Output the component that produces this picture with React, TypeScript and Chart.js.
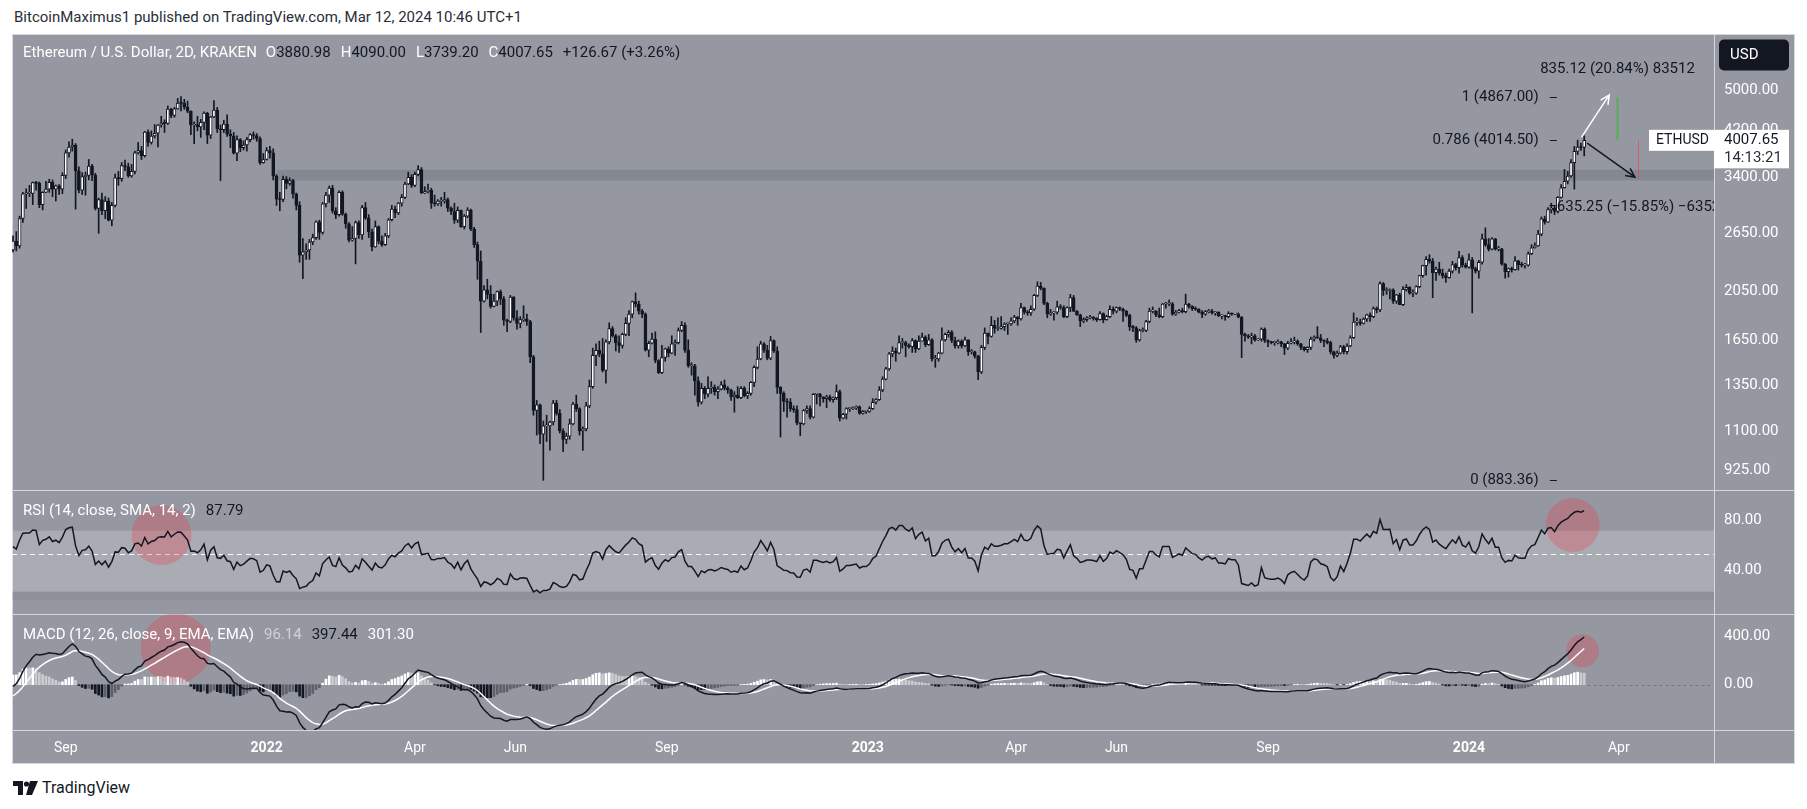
import React, { useEffect, useRef } from 'react';
import { Chart, registerables } from 'chart.js';

Chart.register(...registerables);

// ---------- DATA (2D candles, KRAKEN ETH/USD, Jul 31 2021 .. Mar 11 2024) ----------
// closes before the visible range, used only to warm up RSI / MACD
const WARMUP_CLOSES = [1970,2090,2110,1970,2070,2140,2430,2520,2240,2160,2360,2210,2310,2750,2770,2950,3540,3490,3910,3950,4170,3720,3580,3280,2430,2740,2100,2710,2730,2280,2710,2710,2700,2630,2510,2370,2510,2590,2370,2230,2240,1880,1990,1830,2080,2280,2230,2320,2320,2110,2140,1990,1910,1880,1900,1820,2020,2190,2230,2380,2460];

const CLOSES = [
2560,2505,2830,3160,3165,3165,3320,3310,3010,3180,3225,3325,3225,3275,3225,3430,
3790,3890,3925,3500,3210,3410,3430,3575,3435,2960,3080,2930,3060,2810,3000,
3390,3380,3580,3560,3420,3490,3790,3830,3745,4155,3970,4085,4135,4290,4325,4320,
4605,4475,4610,4730,4725,4645,4560,4290,4300,4255,4340,4525,4100,4445,4585,
4220,4200,4310,4120,4085,3785,4020,3880,3925,4020,4110,4095,4040,3630,3680,
3830,3790,3420,3085,3080,3370,3310,3350,3160,3000,2405,2440,2460,2550,2600,2790,
2660,3020,3140,3240,2930,2880,3180,2885,2765,2570,2590,2780,2630,2970,
2835,2665,2495,2730,2560,2520,2620,2815,2950,2900,3030,3110,3300,3400,3280,
3445,3520,3170,3190,3210,3030,3020,3060,3060,3080,2965,2920,2810,2935,2730,
2860,2940,2700,2520,2340,1960,2060,2020,1915,1960,2045,1980,1800,1790,1995,1820,
1775,1805,1810,1790,1530,1205,1235,1085,1125,1125,1145,1245,1190,1100,1060,
1075,1135,1240,1215,1100,1110,1230,1340,1540,1575,1550,1440,1635,1735,1680,
1630,1610,1690,1775,1850,1955,1935,1875,1850,1575,1625,1655,1505,1425,1525,1585,
1555,1620,1630,1720,1760,1575,1470,1470,1375,1250,1330,1295,1330,1335,1310,
1325,1350,1330,1320,1280,1290,1275,1330,1285,1300,1365,1460,1515,1620,1575,
1520,1645,1570,1335,1300,1255,1250,1215,1210,1140,1135,1205,1215,1170,1295,
1295,1280,1270,1280,1265,1275,1310,1165,1185,1215,1215,1220,1225,1190,1200,1200,
1215,1250,1265,1320,1385,1450,1550,1570,1555,1630,1630,1610,1600,1645,1585,
1640,1670,1615,1650,1515,1515,1555,1650,1690,1705,1645,1605,1640,1605,
1650,1565,1565,1535,1430,1595,1700,1675,1760,1735,1735,1750,1770,1770,1795,1825,
1810,1905,1865,1860,1890,2010,2095,2075,1940,1850,1860,1865,1910,1905,1830,
1905,1990,1875,1845,1795,1805,1820,1820,1815,1805,1855,1805,1830,1890,1875,
1905,1890,1875,1840,1750,1740,1650,1720,1720,1790,1875,1875,1845,1830,1935,
1935,1935,1850,1865,1880,1870,1935,1915,1895,1890,1865,1850,1870,1875,1860,1865,
1835,1835,1830,1855,1850,1850,1825,1690,1680,1670,1680,1650,1655,1730,1645,
1635,1630,1630,1635,1620,1590,1625,1635,1640,1620,1595,1580,1595,1655,1670,
1665,1645,1640,1630,1565,1540,1555,1600,1565,1605,1665,1785,1785,1775,1810,1845,
1830,1895,1885,2120,2055,2055,2060,1960,2015,1930,2065,2085,2030,2030,2090,
2195,2295,2360,2340,2225,2260,2220,2195,2175,2240,2305,2275,2380,2300,2280,
2355,2265,2240,2330,2585,2520,2470,2585,2470,2470,2310,2235,2265,2255,2345,2305,
2300,2300,2420,2485,2505,2640,2825,2785,2945,2965,2920,3110,3245,3340,
3420,3630,3815,3890,3880.98,4007.65];

const HIGHS = [
2620,2670,2860,3180,3230,3280,3330,3340,3330,3190,3340,3370,3360,3285,3290,3470,
3840,3980,4030,3950,3560,3470,3480,3680,3600,3460,3100,3170,3120,3100,3040,
3450,3490,3630,3670,3620,3600,3820,3970,3900,4170,4200,4180,4300,4300,4460,4390,
4670,4620,4640,4830,4867,4810,4770,4570,4350,4460,4400,4550,4540,4460,4780,
4640,4290,4380,4490,4200,4150,4090,4040,4000,4060,4130,4160,4130,4070,3780,
3880,3900,3860,3440,3180,3420,3410,3390,3370,3170,3050,2590,2530,2580,2640,2800,
2810,3040,3180,3270,3280,2970,3200,3200,2900,2780,2730,2800,2800,3000,
3040,2880,2700,2800,2740,2620,2650,2830,3000,2990,3040,3150,3330,3480,3440,
3480,3580,3550,3260,3300,3240,3140,3080,3110,3180,3100,2980,3030,2980,2940,
2880,2970,2950,2720,2550,2450,2100,2160,2100,2020,2050,2060,2000,1810,2010,2000,
1880,1830,1920,1850,1800,1540,1260,1240,1150,1180,1150,1260,1260,1210,1110,
1090,1160,1250,1290,1220,1120,1250,1380,1590,1620,1640,1660,1650,1780,1750,
1690,1680,1700,1820,1880,1960,2034,1960,1890,1860,1640,1700,1710,1510,1610,1590,
1600,1680,1650,1740,1790,1780,1650,1490,1480,1400,1360,1340,1400,1370,1350,
1340,1370,1380,1340,1325,1310,1340,1340,1340,1310,1370,1470,1600,1640,1630,
1610,1675,1650,1600,1340,1310,1270,1270,1230,1230,1140,1210,1230,1230,1300,
1300,1300,1280,1290,1290,1280,1350,1320,1190,1220,1220,1225,1230,1230,1205,1205,
1225,1270,1270,1340,1400,1460,1560,1600,1590,1680,1660,1640,1620,1660,1650,
1680,1700,1680,1690,1660,1540,1560,1740,1700,1720,1720,1670,1650,1650,
1670,1650,1580,1570,1540,1610,1740,1700,1830,1800,1820,1830,1780,1780,1820,1840,
1830,1940,1910,1880,1920,2020,2136,2130,2080,1950,1890,1870,1960,1930,1920,
1910,2020,2010,1880,1850,1820,1830,1840,1830,1820,1870,1860,1840,1920,1910,
1910,1910,1900,1880,1850,1760,1750,1730,1740,1800,1900,1910,1880,1900,1940,
1950,1970,1950,1880,1890,1900,2022,1940,1920,1910,1895,1880,1880,1890,1890,1870,
1870,1845,1840,1870,1860,1855,1860,1830,1700,1690,1700,1690,1660,1740,1740,
1650,1640,1640,1650,1640,1625,1640,1660,1670,1650,1625,1600,1600,1670,1680,
1750,1690,1650,1660,1640,1570,1570,1610,1610,1620,1680,1860,1820,1810,1820,1850,
1860,1910,1910,2136,2130,2080,2070,2070,2020,2030,2090,2110,2090,2060,2100,
2200,2300,2390,2410,2370,2280,2330,2260,2220,2260,2340,2320,2445,2400,2320,
2420,2380,2280,2350,2640,2715,2590,2600,2590,2500,2480,2320,2270,2280,2390,2350,
2330,2320,2440,2520,2540,2685,2850,2860,2970,3030,3000,3120,3290,3520,
3490,3680,3900,4010,3960,4090];

const LOWS = [
2440,2450,2480,2780,2960,3120,3010,3210,2970,2940,3180,3180,3120,3060,3150,3160,
3380,3720,3820,2950,3170,3150,3140,3360,3350,2940,2650,2880,2830,2800,2740,
2980,3280,3340,3500,3400,3400,3450,3770,3680,3720,3900,3940,4050,3890,4250,4150,
4300,4430,4440,4600,4570,4600,4530,4110,3950,4180,4060,4200,3950,4040,4430,
4150,3350,4150,4080,3880,3770,3660,3810,3840,3820,3980,4030,3990,3600,3620,
3670,3700,3360,3000,2930,3050,3230,3280,3100,2940,2330,2167,2360,2360,2520,2580,
2580,2640,2980,3040,2900,2830,2860,2870,2710,2550,2560,2313,2590,2580,
2820,2600,2450,2490,2530,2500,2510,2600,2800,2840,2880,2990,3090,3290,3250,
3260,3420,3160,3160,3170,2960,2990,3000,2990,3030,2920,2880,2770,2780,2720,
2700,2840,2680,2490,2160,1704,1950,1980,1900,1910,1920,1930,1760,1710,1780,1800,
1730,1740,1790,1760,1490,1180,1080,1040,883,1050,1010,1130,1180,1090,1003,
1040,1060,1130,1200,1080,1009,1100,1220,1330,1470,1530,1430,1361,1620,1670,
1570,1560,1590,1680,1680,1820,1910,1850,1820,1570,1530,1620,1490,1420,1420,1500,
1530,1550,1540,1620,1710,1560,1460,1410,1290,1229,1240,1270,1280,1300,1290,
1270,1320,1320,1300,1260,1196,1270,1270,1280,1270,1290,1340,1450,1510,1560,
1510,1510,1560,1300,1071,1200,1170,1200,1195,1130,1077,1130,1190,1160,1165,
1240,1230,1250,1220,1255,1250,1265,1150,1160,1160,1200,1210,1210,1185,1185,1190,
1195,1210,1240,1260,1310,1380,1440,1530,1500,1550,1590,1530,1590,1560,1560,
1580,1640,1600,1610,1500,1460,1500,1550,1640,1670,1630,1590,1590,1590,
1600,1540,1550,1520,1382,1420,1580,1620,1670,1700,1720,1730,1720,1690,1760,1780,
1760,1800,1850,1840,1840,1880,2000,2060,1930,1820,1840,1800,1850,1890,1820,
1820,1870,1870,1840,1750,1780,1790,1810,1800,1790,1800,1780,1800,1820,1850,
1860,1880,1790,1830,1720,1710,1632,1640,1710,1710,1780,1860,1830,1820,1820,
1900,1920,1840,1840,1860,1860,1860,1900,1880,1880,1860,1820,1840,1860,1850,1840,
1830,1810,1800,1820,1840,1845,1820,1524,1640,1660,1620,1640,1645,1640,1630,
1600,1620,1610,1620,1600,1545,1580,1620,1620,1610,1580,1570,1560,1580,1640,
1660,1630,1600,1620,1550,1521,1530,1550,1550,1550,1600,1660,1760,1760,1770,1790,
1790,1820,1860,1870,2010,2020,1980,1940,1940,1930,1920,2050,2020,2000,2020,
2080,2180,2200,2320,1990,2150,2200,2170,2130,2170,2220,2250,2220,2280,2270,
2270,1860,2220,2170,2310,2500,2450,2460,2460,2450,2300,2170,2180,2230,2250,2250,
2280,2270,2290,2410,2480,2500,2620,2760,2780,2900,2880,2900,3100,3240,
3300,3400,3226,3760,3830,3739.2];

// axis ticks
const PRICE_TICKS = [925, 1100, 1350, 1650, 2050, 2650, 3400, 4200, 5000];
const RSI_TICKS = [80, 40];
const MACD_TICKS = [400, 0];
const TIME_TICK_INDEX = [16, 77, 122, 152.5, 198.5, 259.5, 304.5, 335, 381, 442, 487.5];
const TIME_TICK_LABELS = ['Sep', '2022', 'Apr', 'Jun', 'Sep', '2023', 'Apr', 'Jun', 'Sep', '2024', 'Apr'];
const YEAR_LABELS = ['2022', '2023', '2024'];

// drawings on the chart
const FIB_LEVELS = [1, 0.786, 0];
const FIB_PRICES = [4867.0, 4014.5, 883.36];
const ZONE_PRICES = [3352, 3514];
const ZONE_START_INDEX = 80;
const MEASURE_DELTAS = [835.12, -635.25];
const MEASURE_INDEX = [487.1, 493.4];
const WHITE_ARROW = [476.2, 4064, 484.6, 4905];
const BLACK_ARROW = [477.9, 3957, 492.4, 3401];
const RSI_BAND = [23.2, 72];
const RSI_MID = 53.4;
const RSI_CIRCLES = [[45.1, 68.6, 30], [473.5, 76.6, 27]];
const MACD_CIRCLES = [[49.4, 303, 35], [476.5, 283, 16.5]];
const RSI_LAST = 87.79;
const MACD_LAST = [96.14, 397.44, 301.3];
const COUNTDOWN = '14:13:21';

// ---------- layout constants ----------
const X_MIN = -0.304;
const X_MAX = 516.4;
const PRICE_MIN = 846;
const PRICE_MAX = 6431;
const RSI_MIN = 5.36;
const RSI_MAX = 104.56;
const MACD_MIN = -377.5;
const MACD_MAX = 589.2;
const AXIS_W = 81;
const FONT = 'Roboto, "Noto Sans", "DejaVu Sans", sans-serif';
const WHITE = '#ffffff';
const DARK = '#131722';
const BG = '#9598a1';

// ---------- helpers ----------
function calcRsi(values: number[], period: number) {
  const out: (number | null)[] = new Array(values.length).fill(null);
  let g = 0, l = 0;
  for (let i = 1; i <= period; i++) {
    const d = values[i] - values[i - 1];
    if (d > 0) g += d; else l -= d;
  }
  let ag = g / period, al = l / period;
  out[period] = al === 0 ? 100 : 100 - 100 / (1 + ag / al);
  for (let i = period + 1; i < values.length; i++) {
    const d = values[i] - values[i - 1];
    ag = (ag * (period - 1) + Math.max(d, 0)) / period;
    al = (al * (period - 1) + Math.max(-d, 0)) / period;
    out[i] = al === 0 ? 100 : 100 - 100 / (1 + ag / al);
  }
  return out;
}
function calcEma(values: number[], period: number) {
  const k = 2 / (period + 1);
  const out: number[] = [];
  values.forEach((v, i) => out.push(i === 0 ? v : v * k + out[i - 1] * (1 - k)));
  return out;
}
function drawPieces(ctx: any, pieces: [string, string, number][], x: number, y: number) {
  let cx = x;
  for (const [t, col, gap] of pieces) {
    ctx.fillStyle = col;
    ctx.fillText(t, cx, y);
    cx += ctx.measureText(t).width + gap;
  }
}
function drawArrow(ctx: any, x1: number, y1: number, x2: number, y2: number, color: string) {
  const ang = Math.atan2(y2 - y1, x2 - x1);
  const L = 10;
  ctx.strokeStyle = color;
  ctx.lineWidth = 1.5;
  ctx.beginPath();
  ctx.moveTo(x1, y1);
  ctx.lineTo(x2, y2);
  ctx.moveTo(x2 - L * Math.cos(ang - 0.45), y2 - L * Math.sin(ang - 0.45));
  ctx.lineTo(x2, y2);
  ctx.lineTo(x2 - L * Math.cos(ang + 0.45), y2 - L * Math.sin(ang + 0.45));
  ctx.stroke();
}
function fmtSigned(v: number) {
  return (v < 0 ? '\u2212' : '') + Math.abs(v).toFixed(2);
}
function fixY(width: number) {
  return (s: any) => {
    s.width = width;
    s.paddingTop = 0; s.paddingBottom = 0; s.paddingLeft = 0; s.paddingRight = 0;
  };
}

export default function App() {
  const mainRef = useRef<HTMLCanvasElement | null>(null);
  const rsiRef = useRef<HTMLCanvasElement | null>(null);
  const macdRef = useRef<HTMLCanvasElement | null>(null);

  useEffect(() => {
    const N = Math.min(CLOSES.length, HIGHS.length, LOWS.length);
    const idx = Array.from({ length: N }, (_, i) => i);
    const opens = idx.map(i => (i === 0 ? WARMUP_CLOSES[WARMUP_CLOSES.length - 1] : CLOSES[i - 1]));
    const highs = idx.map(i => Math.max(HIGHS[i], opens[i], CLOSES[i]));
    const lows = idx.map(i => Math.min(LOWS[i], opens[i], CLOSES[i]));
    const bodyColors = idx.map(i => (CLOSES[i] >= opens[i] ? '#ffffff' : DARK));
    const lastClose = CLOSES[N - 1];

    const all = [...WARMUP_CLOSES, ...CLOSES.slice(0, N)];
    const off = WARMUP_CLOSES.length;
    const rsiAll = calcRsi(all, 14);
    const e12 = calcEma(all, 12);
    const e26 = calcEma(all, 26);
    const macdAll = all.map((_, i) => e12[i] - e26[i]);
    const sigAll = calcEma(macdAll, 9);
    const histAll = macdAll.map((m, i) => m - sigAll[i]);
    const rsi = idx.map(i => rsiAll[i + off]);
    const macd = idx.map(i => macdAll[i + off]);
    const sig = idx.map(i => sigAll[i + off]);
    const hist = idx.map(i => histAll[i + off]);
    const histColors = idx.map(i => {
      const h = hist[i], p = histAll[i + off - 1];
      if (h >= 0) return h >= p ? '#ffffff' : 'rgba(255,255,255,0.5)';
      return h <= p ? DARK : '#5d606b';
    });

    const xHidden = { type: 'linear', min: X_MIN, max: X_MAX, display: false, offset: false };
    const baseOpts = {
      animation: false,
      responsive: false,
      maintainAspectRatio: false,
      events: [],
      layout: { padding: 0 },
      plugins: { legend: { display: false }, tooltip: { enabled: false } },
    };
    const yAxis = (min: number, max: number, ticks: number[], type = 'linear') => ({
      type,
      position: 'right',
      min,
      max,
      bounds: 'data',
      afterFit: fixY(AXIS_W),
      afterBuildTicks: (s: any) => { s.ticks = ticks.map(v => ({ value: v })); },
      grid: { display: false, drawTicks: false },
      border: { display: false },
      ticks: {
        color: WHITE,
        font: { family: FONT, size: 15 },
        padding: 10,
        autoSkip: false,
        callback: (v: any) => Number(v).toFixed(2),
      },
    });

    // ---------- main price pane ----------
    const mainOverlay = {
      id: 'mainOverlay',
      beforeDatasetsDraw(chart: any) {
        const { ctx, chartArea: a, scales } = chart;
        const x = scales.x, y = scales.y;
        ctx.save();
        ctx.fillStyle = 'rgba(40,44,56,0.15)';
        const x0 = x.getPixelForValue(ZONE_START_INDEX);
        const yt = y.getPixelForValue(ZONE_PRICES[1]);
        const yb = y.getPixelForValue(ZONE_PRICES[0]);
        ctx.fillRect(x0, yt, a.right - x0, yb - yt);
        ctx.restore();
      },
      afterDatasetsDraw(chart: any) {
        const { ctx, chartArea: a, scales } = chart;
        const x = scales.x, y = scales.y;
        ctx.save();
        ctx.beginPath();
        ctx.rect(a.left, a.top, a.right - a.left, a.bottom - a.top);
        ctx.clip();
        ctx.font = `15px ${FONT}`;
        ctx.textBaseline = 'middle';
        // fib retracement labels
        FIB_LEVELS.forEach((lvl, k) => {
          const py = Math.round(y.getPixelForValue(FIB_PRICES[k])) + 0.5;
          ctx.fillStyle = DARK;
          ctx.textAlign = 'right';
          ctx.fillText(`${lvl} (${FIB_PRICES[k].toFixed(2)})`, x.getPixelForValue(463.2), py);
          ctx.strokeStyle = DARK;
          ctx.lineWidth = 1;
          ctx.beginPath();
          ctx.moveTo(x.getPixelForValue(466.6), py);
          ctx.lineTo(x.getPixelForValue(468.7), py);
          ctx.stroke();
        });
        // price range measures
        MEASURE_DELTAS.forEach((d, k) => {
          const px = Math.round(x.getPixelForValue(MEASURE_INDEX[k])) + 0.5;
          const y0 = y.getPixelForValue(lastClose);
          const y1 = y.getPixelForValue(lastClose + d);
          ctx.strokeStyle = d > 0 ? 'rgba(76,175,80,0.9)' : 'rgba(242,54,69,0.55)';
          ctx.lineWidth = d > 0 ? 2 : 1;
          ctx.beginPath();
          ctx.moveTo(px, y0);
          ctx.lineTo(px, y1);
          ctx.stroke();
          const pct = (d / lastClose) * 100;
          const txt = `${fmtSigned(d)} (${fmtSigned(pct)}%) ${d < 0 ? '\u2212' : ''}${Math.round(Math.abs(d) * 100)}`;
          ctx.fillStyle = DARK;
          ctx.textAlign = 'center';
          ctx.fillText(txt, px, d > 0 ? Math.min(y0, y1) - 29 : Math.max(y0, y1) + 28);
        });
        drawArrow(ctx, x.getPixelForValue(WHITE_ARROW[0]), y.getPixelForValue(WHITE_ARROW[1]),
          x.getPixelForValue(WHITE_ARROW[2]), y.getPixelForValue(WHITE_ARROW[3]), '#ffffff');
        drawArrow(ctx, x.getPixelForValue(BLACK_ARROW[0]), y.getPixelForValue(BLACK_ARROW[1]),
          x.getPixelForValue(BLACK_ARROW[2]), y.getPixelForValue(BLACK_ARROW[3]), DARK);
        ctx.restore();
      },
      afterDraw(chart: any) {
        const { ctx, chartArea: a, scales } = chart;
        const y = scales.y;
        ctx.save();
        ctx.font = `15px ${FONT}`;
        ctx.textBaseline = 'middle';
        ctx.textAlign = 'left';
        // legend
        const o = CLOSES[N - 2], h = HIGHS[N - 1], l = LOWS[N - 1], c = CLOSES[N - 1];
        const ch = c - o;
        drawPieces(ctx, [
          ['Ethereum / U.S. Dollar, 2D, KRAKEN', WHITE, 9],
          ['O', WHITE, 0], [o.toFixed(2), DARK, 10],
          ['H', WHITE, 0], [h.toFixed(2), DARK, 10],
          ['L', WHITE, 0], [l.toFixed(2), DARK, 10],
          ['C', WHITE, 0], [c.toFixed(2), DARK, 10],
          [`${ch >= 0 ? '+' : '\u2212'}${Math.abs(ch).toFixed(2)} (${ch >= 0 ? '+' : '\u2212'}${Math.abs((ch / o) * 100).toFixed(2)}%)`, DARK, 0],
        ], 11, 19);
        // last price label
        const py = y.getPixelForValue(lastClose);
        ctx.fillStyle = '#ffffff';
        ctx.fillRect(a.right - 65, py - 10.5, 65, 21);
        ctx.fillRect(a.right, py - 10.5, 75, 38.5);
        ctx.fillStyle = DARK;
        ctx.font = `14px ${FONT}`;
        ctx.fillText('ETHUSD', a.right - 58, py);
        ctx.font = `15px ${FONT}`;
        ctx.fillText(lastClose.toFixed(2), a.right + 10, py);
        ctx.fillStyle = '#2a2e39';
        ctx.fillText(COUNTDOWN, a.right + 10, py + 18);
        // currency button
        ctx.fillStyle = DARK;
        ctx.beginPath();
        if (ctx.roundRect) ctx.roundRect(a.right + 5, 5.5, 70, 31, 5); else ctx.rect(a.right + 5, 5.5, 70, 31);
        ctx.fill();
        ctx.fillStyle = WHITE;
        ctx.fillText('USD', a.right + 16, 21);
        ctx.restore();
      },
    };

    const mainChart = new Chart(mainRef.current as any, {
      type: 'bar',
      data: {
        datasets: [
          {
            label: 'body',
            data: idx.map(i => ({ x: i, y: [opens[i], CLOSES[i]] })),
            backgroundColor: bodyColors,
            borderColor: DARK,
            borderWidth: 1,
            borderSkipped: false,
            barThickness: 3,
            minBarLength: 1,
            grouped: false,
            order: 0,
          },
          {
            label: 'wick',
            data: idx.map(i => ({ x: i, y: [lows[i], highs[i]] })),
            backgroundColor: DARK,
            borderWidth: 0,
            barThickness: 1,
            grouped: false,
            order: 1,
          },
        ],
      } as any,
      options: {
        ...baseOpts,
        scales: { x: xHidden, y: yAxis(PRICE_MIN, PRICE_MAX, PRICE_TICKS, 'logarithmic') },
      } as any,
      plugins: [mainOverlay],
    });

    // ---------- RSI pane ----------
    const rsiOverlay = {
      id: 'rsiOverlay',
      beforeDatasetsDraw(chart: any) {
        const { ctx, chartArea: a, scales } = chart;
        const x = scales.x, y = scales.y;
        ctx.save();
        const t = y.getPixelForValue(RSI_BAND[1]);
        const b = y.getPixelForValue(RSI_BAND[0]);
        ctx.fillStyle = 'rgba(255,255,255,0.2)';
        ctx.fillRect(a.left, t, a.right - a.left, b - t);
        ctx.fillStyle = 'rgba(60,63,72,0.08)';
        ctx.fillRect(a.left, b, a.right - a.left, 8);
        const m = Math.round(y.getPixelForValue(RSI_MID)) + 0.5;
        ctx.strokeStyle = 'rgba(255,255,255,0.95)';
        ctx.lineWidth = 1;
        ctx.setLineDash([5, 4]);
        ctx.beginPath();
        ctx.moveTo(a.left, m);
        ctx.lineTo(a.right, m);
        ctx.stroke();
        ctx.setLineDash([]);
        ctx.fillStyle = 'rgba(242,54,69,0.28)';
        RSI_CIRCLES.forEach(([ci, cv, r]) => {
          ctx.beginPath();
          ctx.arc(x.getPixelForValue(ci), y.getPixelForValue(cv), r, 0, Math.PI * 2);
          ctx.fill();
        });
        ctx.restore();
      },
      afterDraw(chart: any) {
        const { ctx } = chart;
        ctx.save();
        ctx.font = `15px ${FONT}`;
        ctx.textBaseline = 'middle';
        ctx.textAlign = 'left';
        drawPieces(ctx, [['RSI (14, close, SMA, 14, 2)', WHITE, 10], [RSI_LAST.toFixed(2), DARK, 0]], 11, 21);
        ctx.restore();
      },
    };
    const rsiChart = new Chart(rsiRef.current as any, {
      type: 'line',
      data: {
        datasets: [{
          data: idx.map(i => ({ x: i, y: rsi[i] })),
          borderColor: DARK,
          borderWidth: 1.5,
          pointRadius: 0,
          tension: 0,
        }],
      } as any,
      options: {
        ...baseOpts,
        scales: { x: xHidden, y: yAxis(RSI_MIN, RSI_MAX, RSI_TICKS) },
      } as any,
      plugins: [rsiOverlay],
    });

    // ---------- MACD pane ----------
    const macdOverlay = {
      id: 'macdOverlay',
      beforeDatasetsDraw(chart: any) {
        const { ctx, chartArea: a, scales } = chart;
        const x = scales.x, y = scales.y;
        ctx.save();
        const zy = Math.round(y.getPixelForValue(0)) + 0.5;
        ctx.strokeStyle = 'rgba(90,93,104,0.55)';
        ctx.lineWidth = 1;
        ctx.setLineDash([3, 3]);
        ctx.beginPath();
        ctx.moveTo(x.getPixelForValue(N), zy);
        ctx.lineTo(a.right, zy);
        ctx.stroke();
        ctx.setLineDash([]);
        ctx.fillStyle = 'rgba(242,54,69,0.28)';
        MACD_CIRCLES.forEach(([ci, cv, r]) => {
          ctx.beginPath();
          ctx.arc(x.getPixelForValue(ci), y.getPixelForValue(cv), r, 0, Math.PI * 2);
          ctx.fill();
        });
        ctx.restore();
      },
      afterDraw(chart: any) {
        const { ctx } = chart;
        ctx.save();
        ctx.font = `15px ${FONT}`;
        ctx.textBaseline = 'middle';
        ctx.textAlign = 'left';
        drawPieces(ctx, [
          ['MACD (12, 26, close, 9, EMA, EMA)', WHITE, 10],
          [MACD_LAST[0].toFixed(2), 'rgba(255,255,255,0.55)', 10],
          [MACD_LAST[1].toFixed(2), DARK, 10],
          [MACD_LAST[2].toFixed(2), WHITE, 0],
        ], 11, 21);
        ctx.restore();
      },
    };
    const macdChart = new Chart(macdRef.current as any, {
      type: 'bar',
      data: {
        datasets: [
          {
            type: 'line',
            data: idx.map(i => ({ x: i, y: macd[i] })),
            borderColor: DARK,
            borderWidth: 1.5,
            pointRadius: 0,
            tension: 0,
            order: 0,
          },
          {
            type: 'line',
            data: idx.map(i => ({ x: i, y: sig[i] })),
            borderColor: '#ffffff',
            borderWidth: 1.5,
            pointRadius: 0,
            tension: 0,
            order: 1,
          },
          {
            type: 'bar',
            data: idx.map(i => ({ x: i, y: hist[i] })),
            backgroundColor: histColors,
            borderWidth: 0,
            barThickness: 2,
            grouped: false,
            order: 2,
          },
        ],
      } as any,
      options: {
        ...baseOpts,
        scales: {
          x: {
            type: 'linear',
            min: X_MIN,
            max: X_MAX,
            offset: false,
            position: 'bottom',
            afterFit: (s: any) => {
              s.height = 34;
              s.paddingLeft = 0; s.paddingRight = 0; s.paddingTop = 0; s.paddingBottom = 0;
            },
            afterBuildTicks: (s: any) => { s.ticks = TIME_TICK_INDEX.map(v => ({ value: v })); },
            grid: { display: false, drawTicks: false },
            border: { display: false },
            ticks: {
              color: WHITE,
              padding: 10,
              autoSkip: false,
              maxRotation: 0,
              minRotation: 0,
              font: (c: any) => ({
                family: FONT,
                size: 14,
                weight: YEAR_LABELS.includes(TIME_TICK_LABELS[c.index]) ? 'bold' : 'normal',
              }),
              callback: (_v: any, i: number) => TIME_TICK_LABELS[i],
            },
          },
          y: yAxis(MACD_MIN, MACD_MAX, MACD_TICKS),
        },
      } as any,
      plugins: [macdOverlay],
    });

    return () => {
      mainChart.destroy();
      rsiChart.destroy();
      macdChart.destroy();
    };
  }, []);

  const line = (l: number, t: number, w: number, h: number) => (
    <div style={{ position: 'absolute', left: l, top: t, width: w, height: h, background: '#d6d8de' }} />
  );

  return (
    <div style={{ position: 'absolute', left: 0, top: 0, width: 1807, height: 809, background: '#ffffff', overflow: 'hidden', fontFamily: FONT }}>
      <div style={{ position: 'absolute', left: 14, top: 8, fontSize: 15, lineHeight: '18px', color: '#2a2e39', whiteSpace: 'nowrap' }}>
        BitcoinMaximus1 published on TradingView.com, Mar 12, 2024 10:46 UTC+1
      </div>
      <div style={{ position: 'absolute', left: 12, top: 34, width: 1783, height: 730, background: BG }} />
      {line(12, 34, 1783, 1)}
      {line(12, 763, 1783, 1)}
      {line(12, 34, 1, 730)}
      {line(1794, 34, 1, 730)}
      {line(12, 490, 1783, 1)}
      {line(12, 614, 1783, 1)}
      {line(12, 730, 1783, 1)}
      {line(1714, 34, 1, 730)}
      <canvas ref={mainRef} width={1783} height={456} style={{ position: 'absolute', left: 12, top: 34 }} />
      <canvas ref={rsiRef} width={1783} height={124} style={{ position: 'absolute', left: 12, top: 490 }} />
      <canvas ref={macdRef} width={1783} height={150} style={{ position: 'absolute', left: 12, top: 614 }} />
      <svg style={{ position: 'absolute', left: 13, top: 781 }} width={26} height={15} viewBox="0 0 26 15">
        <path d="M0 0h10v14H5V5H0z" fill="#131722" />
        <circle cx="13.5" cy="3" r="2.6" fill="#131722" />
        <path d="M17 0h8l-6 14h-6z" fill="#131722" />
      </svg>
      <div style={{ position: 'absolute', left: 42, top: 778, fontSize: 16, lineHeight: '20px', color: '#131722', whiteSpace: 'nowrap' }}>
        TradingView
      </div>
    </div>
  );
}
